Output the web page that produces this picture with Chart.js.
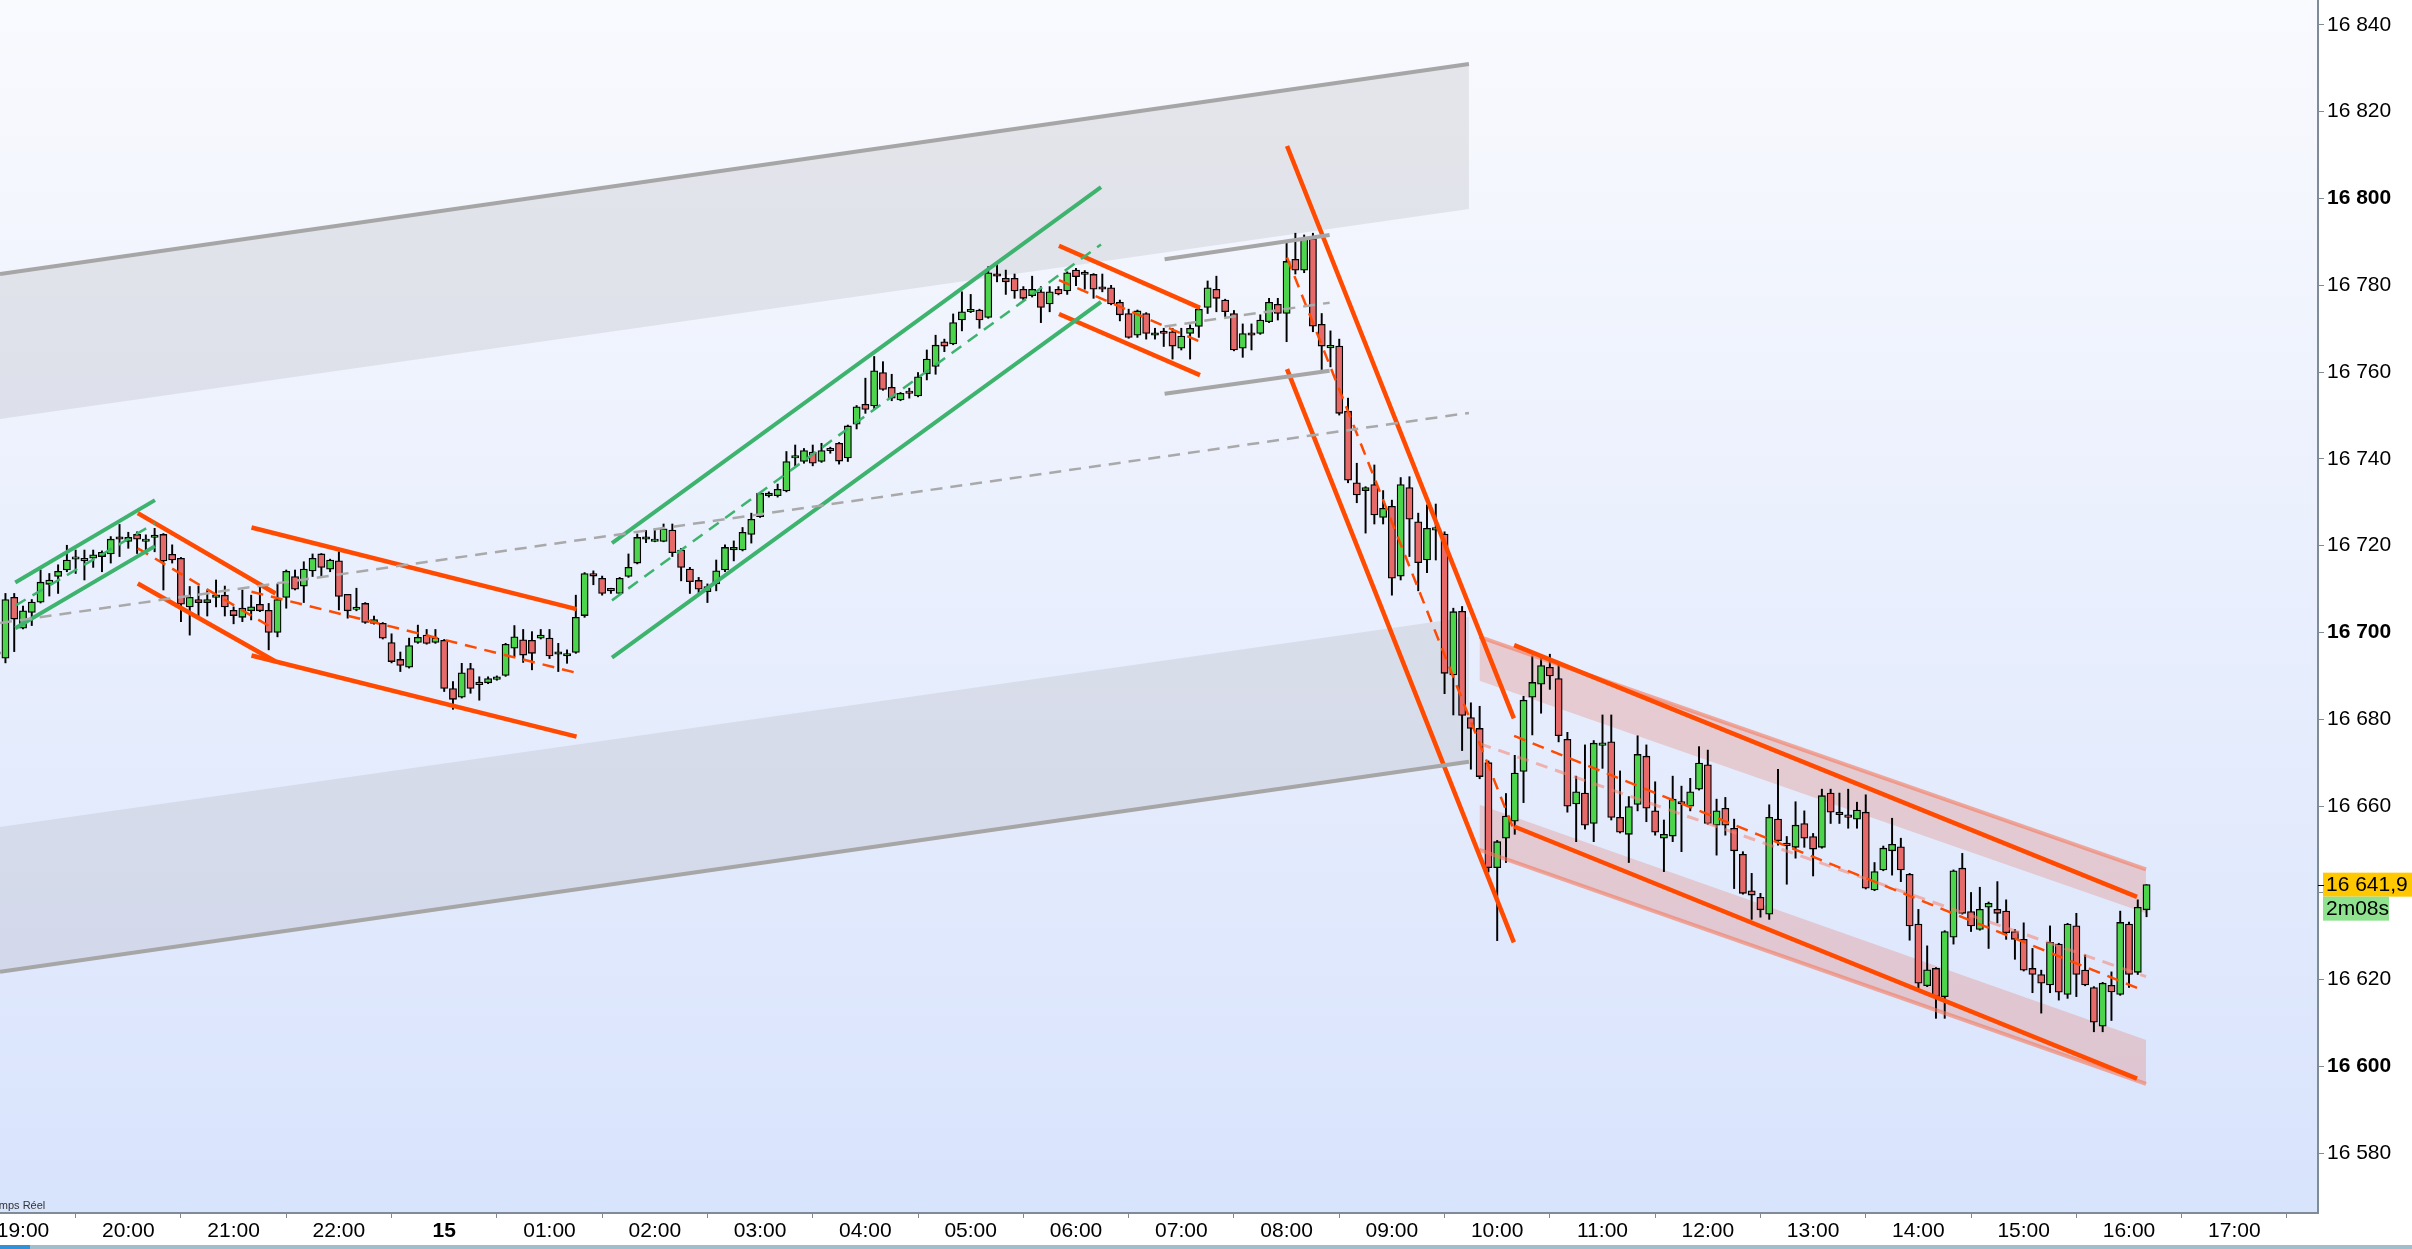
<!DOCTYPE html>
<html><head><meta charset="utf-8">
<script src="https://cdn.jsdelivr.net/npm/chart.js@4.4.1/dist/chart.umd.min.js"></script>
<style>html,body{margin:0;padding:0;background:#fff;overflow:hidden}canvas{display:block}</style>
</head><body>
<canvas id="c" width="2412" height="1249"></canvas>
<script>
// ---- candle data (5-minute bars; bar index -3 = 18:45, 0 = 19:00, 48 = 00:00 on the 15th) ----
const FIRST_BAR = -3;
const opens = [
16695,16694.1,16708.1,16701,16704.6,16707,16711.1,16712.9,16714.4,16716.9,
16717.1,16717.1,16717.5,16718.1,16721.9,16721,16722.6,16721,16721.9,16722.6,
16718,16717.1,16705.9,16707.6,16706.9,16708.1,16708.6,16705.1,16703.5,16705,
16706.5,16705.1,16700,16708.1,16712.9,16710.7,16714.2,16718.1,16714.6,16716.5,
16708.8,16705.3,16706.7,16702.1,16702.1,16697.7,16693.8,16692,16697.7,16699.4,
16697.7,16698.2,16687.1,16685.1,16691.7,16688,16688.4,16689.2,16690.1,16696.4,
16698.3,16698.2,16698.7,16698.7,16695,16694.6,16695.4,16703.9,16713.6,16712.5,
16709.6,16709,16712.9,16716,16721.5,16721,16721,16723.6,16719,16714.6,
16712,16709.4,16711.2,16714.4,16719,16719,16722.6,16726.7,16731.5,16731.5,
16732.6,16740.2,16739.4,16741.6,16739.4,16742.4,16743.6,16740.2,16748,16752.6,
16752.2,16759.9,16756.5,16753.6,16755.6,16754.5,16759.6,16761.3,16767,16766.5,
16772,16773.9,16774.3,16772.6,16782.5,16781.6,16781.6,16779.1,16777.6,16778.5,
16775.7,16779.1,16778.7,16783.5,16782.5,16782.5,16779.4,16779.4,16776.1,16773.5,
16768.5,16773.5,16768.5,16769.3,16769.3,16765.5,16768.9,16770.5,16774.9,16779.1,
16776.6,16773.5,16765.5,16768.9,16768.9,16771.6,16775.6,16773.5,16786,16783.5,
16790.8,16771,16765.6,16766,16751,16734.5,16732.7,16734.1,16726.5,16729.1,
16713,16733.4,16725.5,16716.7,16723.6,16722.7,16690.2,16704.9,16680.4,16677.9,
16670,16645.8,16652.6,16656.5,16668,16685.1,16688.1,16692,16689.4,16675.4,
16660.5,16663,16656,16674,16674.8,16657.4,16653.5,16660.4,16671.5,16658.9,
16652.6,16653.1,16660.9,16660,16663.9,16669.5,16655.6,16659.5,16654.9,16648.9,
16640.5,16639,16635.1,16657,16651.4,16650.5,16656,16653,16650.5,16663,
16658,16658,16657,16658.6,16640.7,16645.3,16649.7,16650.6,16644.3,16632.8,
16618.6,16622.6,16616.1,16629.8,16645.7,16635.7,16631.6,16636.7,16636.2,16635.8,
16631.1,16629.3,16622.6,16621.2,16618.8,16628.2,16616.6,16632.4,16622.2,16618.2,
16609.3,16618.7,16616.6,16632.8,16621.7,16636.1];
const highs = [
16696,16709,16709,16706.1,16707.6,16714.4,16713.6,16715.6,16720.1,16719,
16719,16719,16718.8,16722.1,16724.9,16723.1,16723.2,16722.5,16724,16722.8,
16720.2,16717.3,16710.6,16710.7,16709.8,16712.1,16710.7,16705.9,16709.8,16708.6,
16710.6,16706.7,16711.2,16714.4,16714.4,16716.3,16718.1,16718.2,16716.9,16718.6,
16708.8,16710.2,16706.9,16703.8,16702.3,16699.7,16695.5,16698.7,16701.7,16700.7,
16700.7,16698.4,16688.7,16692.9,16692.9,16689.8,16689.8,16690,16697.5,16701.6,
16700.7,16700.2,16700.7,16700.7,16697.5,16696,16708.6,16713.8,16714.2,16713,
16710.2,16712.7,16718.1,16722.7,16723.5,16723.9,16725,16725,16719.4,16715,
16712.7,16711.2,16716.7,16720.2,16721.1,16724.2,16727.5,16732.3,16732.4,16734.2,
16741.7,16743.2,16742.4,16743.2,16743.6,16742.7,16743.8,16747.8,16752.3,16758.6,
16763.6,16762.4,16759.5,16755.3,16756.3,16759.9,16765.1,16768.5,16767.6,16773.4,
16778.5,16777.9,16774.5,16784.3,16785.1,16783.5,16782.6,16779.7,16782.1,16779.7,
16779.7,16779.7,16783.1,16783.9,16783.4,16782.7,16782.6,16780,16776.6,16774.5,
16774.3,16773.7,16770.1,16770.1,16770.1,16770.1,16770.9,16775.2,16781,16782.1,
16776.8,16774.2,16771.1,16771.1,16773.2,16777,16777,16789.7,16792,16791.6,
16792,16773.5,16769.5,16767.6,16754,16739,16733.6,16738.6,16732.7,16730.5,
16735.7,16735.9,16727.5,16729.4,16729.6,16723.2,16705.6,16706,16683.8,16683,
16670.4,16652.1,16662.9,16671.7,16685.3,16694.6,16694,16695,16692.5,16677,
16666.9,16674.1,16675.1,16681,16681,16668.1,16662.2,16676.2,16674.1,16665.6,
16656.8,16666.9,16664.6,16666.4,16673.7,16672.9,16661.6,16662,16657,16649.5,
16644.5,16639.9,16660.3,16668.5,16653,16661,16658.9,16653.7,16663.9,16663.9,
16663,16663.9,16660.9,16662.6,16647,16650.8,16657.2,16652.6,16644.5,16636.2,
16627.8,16622.8,16631.3,16645.3,16649.1,16640.1,16641.3,16637.9,16642.6,16638.4,
16631.6,16633.1,16627.2,16622.2,16632.4,16628.4,16633,16635.3,16625.7,16618.4,
16619.4,16621.8,16635.8,16633.3,16638.4,16641.9];
const lows = [
16693.5,16693,16695.6,16700.8,16701.6,16706.8,16708.4,16709,16714,16713.6,
16712.1,16715,16714,16716,16717.5,16719.4,16718.2,16718.2,16718.6,16709.8,
16716,16702.5,16699.4,16703.8,16703.8,16705.9,16703.8,16702,16702.5,16702.9,
16704.8,16696,16699,16705.6,16709.8,16706.9,16712.9,16712.9,16714,16705.2,
16703.3,16705,16702.1,16701.9,16698.5,16693,16691,16691.8,16697.5,16697.3,
16697.5,16686.4,16682.3,16684.9,16686,16684.4,16688.2,16689,16689.9,16694.4,
16693.1,16691.4,16698.5,16694,16691,16692.9,16695.2,16703.5,16711,16708.6,
16709,16708.8,16712.7,16715.8,16720.7,16720.9,16720.9,16717.5,16711.9,16709,
16709.2,16706.9,16709.6,16714,16716.5,16718.8,16720.6,16726.5,16731.2,16731.2,
16732.4,16738.4,16739,16738.4,16739.2,16741.3,16738.8,16739.4,16746.9,16750.5,
16751.4,16755.8,16753.4,16753.4,16754,16754.3,16758.2,16759.5,16764.7,16766.3,
16769.5,16773.7,16770.1,16772.4,16780.8,16777.9,16777,16776.5,16777.3,16771.4,
16773.9,16777.8,16777.9,16779.9,16779.1,16777,16778.5,16775.5,16771.8,16767.8,
16768,16767.6,16767.6,16765.9,16763,16765.1,16763,16768,16773.5,16773.9,
16772.6,16764.9,16763.4,16765.1,16768.7,16771.4,16772,16767,16782.6,16782.9,
16769.3,16760.6,16761.2,16750.1,16734.5,16729.9,16722.9,16725,16725,16708.6,
16712.1,16717.5,16709.6,16713.8,16716.7,16685.9,16681,16672.8,16668.5,16666.3,
16644.8,16629,16647,16653.5,16660.8,16676.4,16681.4,16686.9,16674.8,16658.6,
16651.8,16654.7,16651.8,16668.7,16656.8,16653.8,16647,16658.9,16656.4,16653.3,
16644.9,16651.8,16649.5,16658.9,16663.7,16655.8,16648.7,16653.3,16641,16639.7,
16633.9,16634.4,16633.9,16651,16642,16648,16650.5,16643.9,16650.3,16656,
16656,16654.9,16654.9,16640.9,16640.5,16645.1,16644.1,16642.6,16629.1,16618,
16618.4,16611.1,16611.1,16628.2,16635.1,16631.1,16631.4,16627.2,16633.1,16629.3,
16624.7,16622,16617,16612.3,16617,16615.3,16615.7,16616.1,16618.6,16608,
16608,16610.6,16616.4,16618.2,16621.2,16634.5];
const closes = [
16695.5,16707.6,16703.1,16705,16707,16711.6,16712.1,16714.1,16716.7,16716.9,
16716.5,16717.9,16718.5,16721.5,16721.5,16721.9,16721.5,16721.5,16721.9,16716.5,
16716.7,16706.5,16708.1,16706.9,16707.6,16708.1,16705.9,16703.9,16705.6,16705.9,
16705,16700,16707.6,16714.1,16710,16714.6,16717.1,16715,16716.7,16708.3,
16705,16705.8,16702.3,16703,16698.7,16693.3,16692.4,16697,16698.9,16697.5,
16698.7,16687.1,16684.6,16690.7,16687.1,16688,16689.4,16689.8,16697.3,16699,
16694.8,16695.2,16699.4,16694.6,16695,16695,16703.5,16713.6,16713,16709,
16709.6,16712.5,16715,16721.9,16721.5,16721.5,16723.9,16718.4,16715,16711.7,
16710,16710.6,16714.2,16719.6,16719.6,16723.1,16726.1,16732.1,16732.1,16733,
16739.4,16740.2,16741.9,16739,16741.9,16741.9,16739.5,16747.6,16752,16751.4,
16760.3,16756,16754,16755.1,16755.1,16758.9,16763,16766.2,16766,16771.4,
16773.9,16773.9,16772,16782.9,16782.1,16780.8,16778.7,16777,16779.1,16774.9,
16778.5,16778,16782.9,16782,16783,16779.1,16779.1,16775.7,16773.2,16768,
16774.1,16768.9,16768.9,16768.9,16766,16768.3,16770.1,16774.5,16779.4,16777,
16773.9,16765.1,16768.9,16768.5,16772,16776.1,16773.5,16785.5,16783.5,16790.8,
16770.6,16766,16765.6,16750.5,16735.1,16731.7,16733.4,16727.1,16728.6,16712.5,
16734.1,16726.1,16716.1,16724,16723.6,16690.6,16704.8,16680.9,16677.9,16666.8,
16645.8,16651.8,16657.7,16667.6,16684.4,16688.5,16692.4,16690,16676.2,16660,
16663.3,16655.6,16674.5,16674.5,16657.4,16654,16659.9,16671.9,16659.5,16654,
16653.5,16661.6,16660.5,16663.3,16669.9,16656,16658.9,16655.6,16649.7,16639.9,
16639.5,16636.1,16657.4,16652,16650.9,16655.6,16652.6,16650.1,16662.4,16658.6,
16658.6,16657.4,16659.1,16641.1,16644.9,16650.3,16651.2,16645.3,16632.4,16619.2,
16622.3,16616.1,16631.1,16645.1,16635.3,16632.4,16636.2,16637.6,16635.3,16630.8,
16629.3,16622.2,16621.2,16619.2,16628.6,16617.1,16632.8,16621.2,16618.8,16610.2,
16619.2,16617.2,16633.2,16621.2,16636.7,16641.9];

// ---- axis ticks ----
const timeTickIndex = [0,12,24,36,48,60,72,84,96,108,120,132,144,156,168,180,192,204,216,228,240,252];
const timeTickLabels = ['19:00','20:00','21:00','22:00','15','01:00','02:00','03:00','04:00','05:00','06:00',
  '07:00','08:00','09:00','10:00','11:00','12:00','13:00','14:00','15:00','16:00','17:00'];
const boldTimeLabels = ['15'];
const priceTicks = [16580,16600,16620,16640,16660,16680,16700,16720,16740,16760,16780,16800,16820,16840];
const boldPrices = [16600,16700,16800];
const hiddenPriceLabels = [16640];
const countdownText = '2m08s';

// ---- drawn channels: [bar index, price] end points ----
const greyUpperLine     = [[-2.62,16782.6],[164.78,16831.0]];
const greyUpperBandEdge = [[-2.62,16749.2],[164.78,16797.6]];
const greyMidLine       = [[-2.62,16702.2],[164.78,16750.6]];
const greyLowerBandEdge = [[-2.62,16655.2],[164.78,16703.6]];
const greyLowerLine     = [[-2.62,16621.8],[164.78,16670.2]];

const smallGreyUpper = [[130.1,16786.0],[148.9,16791.6]];
const smallGreyMid   = [[130.1,16770.5],[148.9,16776.0]];
const smallGreyLower = [[130.1,16755.0],[148.9,16760.3]];

const greenA_upper = [[-0.88,16711.5],[15.04,16730.5]];
const greenA_mid   = [[-0.88,16706.2],[15.04,16725.2]];
const greenA_lower = [[-0.88,16701.0],[15.04,16719.9]];

const greenB_upper = [[67.12,16720.6],[122.85,16802.6]];
const greenB_mid   = [[67.12,16707.4],[122.85,16789.4]];
const greenB_lower = [[67.12,16694.2],[122.85,16776.2]];

const orangeA_upper = [[13.08,16727.5],[28.78,16709.0]];
const orangeA_mid   = [[13.08,16719.4],[28.78,16700.6]];
const orangeA_lower = [[13.08,16711.3],[28.78,16693.3]];

const orangeB_upper = [[26.04,16724.2],[63.08,16705.4]];
const orangeB_mid   = [[26.04,16709.4],[63.08,16690.7]];
const orangeB_lower = [[26.04,16694.7],[63.08,16676.0]];

const orangeC_upper = [[118.06,16789.1],[134.13,16774.8]];
const orangeC_mid   = [[118.06,16781.2],[134.13,16767.0]];
const orangeC_lower = [[118.06,16773.4],[134.13,16759.3]];

const orangeD_upper = [[144.05,16812.1],[169.9,16680.2]];
const orangeD_mid   = [[144.05,16786.4],[169.9,16654.5]];
const orangeD_lower = [[144.05,16760.7],[169.9,16628.6]];

const orangeE_upper = [[169.93,16697.1],[240.91,16639.1]];
const orangeE_mid   = [[169.93,16676.2],[240.91,16618.1]];
const orangeE_lower = [[169.93,16655.3],[240.91,16597.2]];

const pinkUpperTop    = [[165.98,16699.0],[241.94,16645.4]];
const pinkUpperBottom = [[165.98,16688.9],[241.94,16635.3]];
const pinkLowerTop    = [[165.98,16660.3],[241.94,16606.1]];
const pinkLowerBottom = [[165.98,16649.9],[241.94,16596.0]];
const pinkMid         = [[165.98,16674.4],[241.94,16620.7]];

// ---- build ----
const GREEN = '#4cd44c', RED = '#e66a6a';
const ORANGE = '#ff4a00', GREENLINE = '#3db36e', GREY = '#a6a6a6';
const FONT = "'Liberation Sans', Arial, sans-serif";

const wickData = lows.map((l,k)=>({x: FIRST_BAR+k, y:[l, highs[k]]}));
const bodyData = opens.map((o,k)=>({x: FIRST_BAR+k, y:[o, closes[k]]}));
const bodyColors = opens.map((o,k)=> closes[k] >= o ? GREEN : RED);

const pts = a => a.map(p=>({x:p[0], y:p[1]}));
function lineDs(a, color, width, dash){
  return {type:'line', data:pts(a), borderColor:color, borderWidth:width, borderDash:dash||[],
    pointRadius:0, pointHoverRadius:0, fill:false, tension:0, order:1, borderCapStyle:'butt'};
}
const datasets = [];
function addBand(top, bottom, color){
  datasets.push({type:'line', data:pts(top), borderWidth:0, borderColor:'rgba(0,0,0,0)', pointRadius:0,
    fill:'+1', backgroundColor:color, order:6, tension:0});
  datasets.push({type:'line', data:pts(bottom), borderWidth:0, borderColor:'rgba(0,0,0,0)', pointRadius:0,
    fill:false, order:6, tension:0});
}
const GREYFILL = 'rgba(180,181,186,0.28)';
const PINKFILL = 'rgba(232,96,76,0.24)';
addBand(greyUpperLine, greyUpperBandEdge, GREYFILL);
addBand(greyLowerBandEdge, greyLowerLine, GREYFILL);
addBand(pinkUpperTop, pinkUpperBottom, PINKFILL);
addBand(pinkLowerTop, pinkLowerBottom, PINKFILL);

datasets.push({type:'bar', data:wickData, backgroundColor:'#000', borderWidth:0, barThickness:1.3,
  grouped:false, order:3, minBarLength:1});
datasets.push({type:'bar', data:bodyData, backgroundColor:bodyColors, borderColor:'#000', borderWidth:1.3,
  borderSkipped:false, barThickness:7.2, grouped:false, order:2, minBarLength:2.4});

const DASH = [12,8];
datasets.push(lineDs(greyUpperLine, GREY, 4));
datasets.push(lineDs(greyLowerLine, GREY, 4));
datasets.push(lineDs(greyMidLine, '#a9a9a9', 2.5, DASH));
datasets.push(lineDs(smallGreyUpper, GREY, 4));
datasets.push(lineDs(smallGreyLower, GREY, 4));
datasets.push(lineDs(smallGreyMid, '#a9a9a9', 2.5, DASH));
datasets.push(lineDs(greenA_upper, GREENLINE, 4));
datasets.push(lineDs(greenA_lower, GREENLINE, 4));
datasets.push(lineDs(greenA_mid, GREENLINE, 2.5, DASH));
datasets.push(lineDs(greenB_upper, GREENLINE, 4));
datasets.push(lineDs(greenB_lower, GREENLINE, 4));
datasets.push(lineDs(greenB_mid, GREENLINE, 2.5, DASH));
[orangeA_upper, orangeA_lower, orangeB_upper, orangeB_lower, orangeC_upper, orangeC_lower,
 orangeD_upper, orangeD_lower, orangeE_upper, orangeE_lower].forEach(a=>datasets.push(lineDs(a, ORANGE, 4.5)));
[orangeA_mid, orangeB_mid, orangeC_mid, orangeD_mid, orangeE_mid].forEach(a=>datasets.push(lineDs(a, ORANGE, 2.5, DASH)));
datasets.push(lineDs(pinkUpperTop, 'rgba(245,120,90,0.6)', 4));
datasets.push(lineDs(pinkLowerBottom, 'rgba(245,120,90,0.6)', 4));
datasets.push(lineDs(pinkMid, 'rgba(245,130,110,0.55)', 3, DASH));

const PX_PER_BAR = 8.775;
const xMin = -23 / PX_PER_BAR;
const xMax = xMin + 2318 / PX_PER_BAR;
const yMax = 16700 + 632.5 / 4.34;
const yMin = 16700 - (1213 - 632.5) / 4.34;

const fmtPrice = v => {
  const s = v.toFixed(Number.isInteger(v) ? 0 : 1).replace('.', ',');
  const [ip, dp] = s.split(',');
  return ip.slice(0, ip.length-3) + ' ' + ip.slice(-3) + (dp ? ',' + dp : '');
};

const bgPlugin = {
  id:'bg',
  beforeDraw(chart){
    const {ctx, chartArea:a, width, height} = chart;
    ctx.save();
    ctx.fillStyle = '#fff'; ctx.fillRect(0,0,width,height);
    const g = ctx.createLinearGradient(0, a.top, 0, a.bottom);
    g.addColorStop(0, '#f9fafe'); g.addColorStop(1, '#d8e3fc');
    ctx.fillStyle = g; ctx.fillRect(a.left, a.top, a.right-a.left, a.bottom-a.top);
    ctx.fillStyle = '#a2becd'; ctx.fillRect(0, height-4, width, 4);
    ctx.fillStyle = '#3292d8'; ctx.fillRect(0, height-4, 30, 4);
    ctx.restore();
  }
};
const labelPlugin = {
  id:'labels',
  afterDraw(chart){
    const {ctx, chartArea:a} = chart;
    const ys = chart.scales.y;
    const last = closes[closes.length-1];
    const y = ys.getPixelForValue(last);
    ctx.save();
    ctx.fillStyle = '#ffc800'; ctx.fillRect(2323, y-12, 89, 24);
    ctx.fillStyle = '#8fe38f'; ctx.fillRect(2323, y+12, 66, 24);
    ctx.fillStyle = '#000'; ctx.font = '21px ' + FONT; ctx.textBaseline = 'middle'; ctx.textAlign = 'left';
    ctx.fillText(fmtPrice(last), 2326, y+1);
    ctx.fillText(countdownText, 2326, y+25);
    ctx.strokeStyle = '#000'; ctx.lineWidth = 1;
    ctx.beginPath(); ctx.moveTo(a.right, Math.round(y)+0.5); ctx.lineTo(a.right+6, Math.round(y)+0.5); ctx.stroke();
    ctx.fillStyle = '#333'; ctx.font = '11px ' + FONT; ctx.textBaseline = 'middle';
    ctx.fillText('Temps Réel', -12.8, a.bottom - 7);
    ctx.restore();
  }
};

new Chart(document.getElementById('c'), {
  type:'bar',
  data:{datasets},
  plugins:[bgPlugin, labelPlugin],
  options:{
    responsive:false, animation:false, devicePixelRatio:1,
    layout:{padding:0},
    events:[],
    plugins:{legend:{display:false}, tooltip:{enabled:false}, filler:{drawTime:'beforeDatasetsDraw'}},
    scales:{
      x:{type:'linear', min:xMin, max:xMax, offset:false,
        grid:{display:true, drawOnChartArea:false, drawTicks:true, tickLength:5, color:'#7f8b97', lineWidth:1},
        border:{display:true, color:'#7f8b97', width:2},
        ticks:{autoSkip:false, maxRotation:0, minRotation:0, padding:1, color:'#000',
          font:(c)=>({family:FONT, size:21, weight:(c.tick && boldTimeLabels.includes(timeTickLabels[timeTickIndex.indexOf(c.tick.value)])) ? 'bold':'normal'}),
          callback:(v)=>{ const k = timeTickIndex.indexOf(v); return k>=0 ? timeTickLabels[k] : ''; }},
        afterBuildTicks:(s)=>{ s.ticks = timeTickIndex.map(v=>({value:v})); },
        afterFit:(s)=>{ s.height = 36; s.paddingLeft = 0; s.paddingRight = 0; }
      },
      y:{type:'linear', position:'right', min:yMin, max:yMax,
        grid:{display:true, drawOnChartArea:false, drawTicks:true, tickLength:6, color:'#7f8b97', lineWidth:1},
        border:{display:true, color:'#7f8b97', width:2},
        ticks:{padding:3, color:'#000',
          font:(c)=>({family:FONT, size:21, weight:(c.tick && boldPrices.includes(c.tick.value)) ? 'bold':'normal'}),
          callback:(v)=> hiddenPriceLabels.includes(v) ? '' : fmtPrice(v)},
        afterBuildTicks:(s)=>{ s.ticks = priceTicks.map(v=>({value:v})); },
        afterFit:(s)=>{ s.width = 94; s.paddingTop = 0; s.paddingBottom = 0; }
      }
    }
  }
});
</script>
</body></html>
